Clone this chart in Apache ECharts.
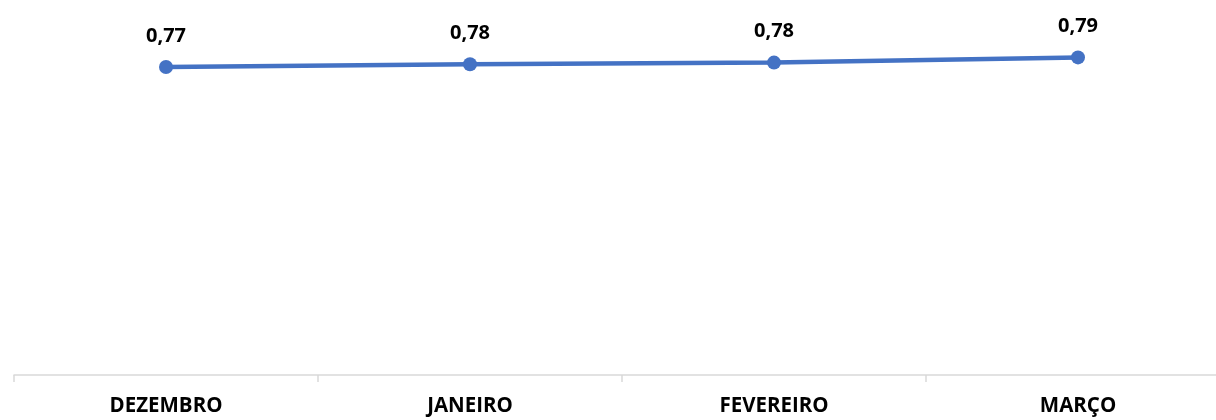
<!DOCTYPE html>
<html><head><meta charset="utf-8">
<script src="https://cdn.jsdelivr.net/npm/echarts@6/dist/echarts.min.js"></script>
<style>html,body{margin:0;padding:0;background:#fff}#c{width:1216px;height:420px}</style>
</head><body><div id="c"></div>
<script>
const categories = ['DEZEMBRO', 'JANEIRO', 'FEVEREIRO', 'MARÇO'];
const values = [0.770, 0.777, 0.781, 0.794];
const yMin = 0, yMax = 0.9;

const chart = echarts.init(document.getElementById('c'), null, {renderer: 'canvas'});
chart.setOption({
  animation: false,
  grid: {left: 14, right: -14, top: 15, bottom: 45, containLabel: false, outerBoundsMode: 'none'},
  xAxis: {
    type: 'category', data: categories, boundaryGap: true,
    axisLine: {show: true, lineStyle: {color: '#D9D9D9', width: 1.5}},
    axisTick: {show: true, alignWithLabel: false, length: 7, lineStyle: {color: '#D9D9D9', width: 1.5}},
    axisLabel: {margin: 21, color: '#000', fontFamily: 'Open Sans', fontWeight: 'bold', fontSize: 20.5, interval: 0}
  },
  yAxis: {
    type: 'value', min: yMin, max: yMax, show: false, splitLine: {show: false}
  },
  series: [{
    type: 'line', data: values,
    symbol: 'circle', symbolSize: 14,
    lineStyle: {color: '#4472C4', width: 4.5},
    itemStyle: {color: '#4472C4'},
    label: {
      show: true, position: 'top', distance: 14,
      color: '#000', fontFamily: 'Open Sans', fontWeight: 'bold', fontSize: 20,
      formatter: p => p.value.toFixed(2).replace('.', ',')
    }
  }]
});
</script></body></html>
